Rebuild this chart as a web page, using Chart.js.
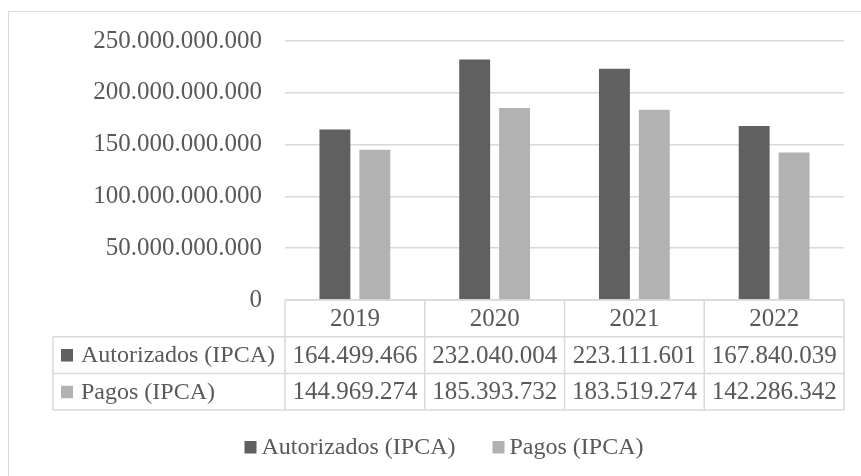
<!DOCTYPE html>
<html>
<head>
<meta charset="utf-8">
<script src="https://cdn.jsdelivr.net/npm/chart.js@4.4.0/dist/chart.umd.min.js"></script>
<style>
html, body { margin: 0; padding: 0; background: #fff; overflow: hidden; }
#wrap { position: relative; width: 861px; height: 476px; }
#frame { position: absolute; left: 8px; top: 11px; width: 880px; height: 490px; border: 1.5px solid #d9d9d9; box-sizing: border-box; }
canvas { position: absolute; left: 0; top: 0; }
</style>
</head>
<body>
<div id="wrap">
  <div id="frame"></div>
  <canvas id="grafico" width="861" height="476"></canvas>
</div>
<script>
// valores em R$ mil, como na tabela
const anos = ['2019', '2020', '2021', '2022'];
const autorizados = [164499466, 232040004, 223111601, 167840039];
const pagos = [144969274, 185393732, 183519274, 142286342];
const nomesSeries = ['Autorizados (IPCA)', 'Pagos (IPCA)'];
const yTickLabels = ['0', '50.000.000.000', '100.000.000.000', '150.000.000.000', '200.000.000.000', '250.000.000.000'];

const corEscura = '#606060';
const corClara = '#b2b2b2';
const corTexto = '#595959';
const corLinha = '#d9d9d9';
const fonte = '"Liberation Serif", "Times New Roman", serif';

function fmt(v) {
    return String(v).replace(/\B(?=(\d{3})+(?!\d))/g, '.');
}

// desenha a tabela de dados e a legenda embaixo do gráfico
const tabelaPlugin = {
    id: 'tabela',
    afterDraw(chart) {
        const { ctx, chartArea } = chart;
        const x = chart.scales.x;
        const n = anos.length;
        const colW = (x.right - x.left) / n;
        const left0 = 53;
        const rowH = 36.7;
        const y0 = chartArea.bottom;
        const ys = [y0, y0 + rowH, y0 + rowH * 2, y0 + rowH * 3];

        ctx.save();
        ctx.strokeStyle = corLinha;
        ctx.lineWidth = 1.5;
        ctx.beginPath();
        ctx.moveTo(x.left, ys[0]); ctx.lineTo(x.right, ys[0]);
        for (let r = 1; r < 4; r++) {
            ctx.moveTo(left0, ys[r]); ctx.lineTo(x.right, ys[r]);
        }
        for (let i = 0; i <= n; i++) {
            const cx = x.left + i * colW;
            ctx.moveTo(cx, ys[0]); ctx.lineTo(cx, ys[3]);
        }
        ctx.moveTo(left0, ys[1]); ctx.lineTo(left0, ys[3]);
        ctx.stroke();

        ctx.fillStyle = corTexto;
        ctx.font = '25px ' + fonte;
        ctx.textBaseline = 'middle';
        ctx.textAlign = 'center';
        anos.forEach((a, i) => {
            const cx = x.getPixelForValue(i);
            ctx.fillText(a, cx, (ys[0] + ys[1]) / 2 + 1);
            ctx.fillText(fmt(autorizados[i]), cx, (ys[1] + ys[2]) / 2 + 1);
            ctx.fillText(fmt(pagos[i]), cx, (ys[2] + ys[3]) / 2 + 1);
        });

        // rótulos das linhas
        ctx.textAlign = 'left';
        const cores = [corEscura, corClara];
        nomesSeries.forEach((nome, k) => {
            const cy = (ys[k + 1] + ys[k + 2]) / 2;
            ctx.fillStyle = cores[k];
            ctx.fillRect(61, cy - 6, 12, 12.5);
            ctx.fillStyle = corTexto;
            ctx.font = '24px ' + fonte;
            ctx.fillText(nome, 81, cy + 1);
        });

        // legenda
        ctx.font = '24px ' + fonte;
        const larguras = nomesSeries.map(s => ctx.measureText(s).width);
        const total = 12 + 5 + larguras[0] + 37 + 12 + 5 + larguras[1];
        let lx = 444 - total / 2;
        const ly = 447;
        nomesSeries.forEach((nome, k) => {
            ctx.fillStyle = cores[k];
            ctx.fillRect(lx, ly - 6, 12, 12.5);
            ctx.fillStyle = corTexto;
            ctx.fillText(nome, lx + 17, ly + 1);
            lx += 17 + larguras[k] + 37;
        });
        ctx.restore();
    }
};

new Chart(document.getElementById('grafico'), {
    type: 'bar',
    data: {
        labels: anos,
        datasets: [
            { label: nomesSeries[0], data: autorizados, backgroundColor: corEscura,
              categoryPercentage: 0.571, barPercentage: 0.775 },
            { label: nomesSeries[1], data: pagos, backgroundColor: corClara,
              categoryPercentage: 0.571, barPercentage: 0.775 }
        ]
    },
    options: {
        responsive: false,
        animation: false,
        devicePixelRatio: 1,
        layout: { padding: { top: 41, right: 17, bottom: 176, left: 0 } },
        plugins: {
            legend: { display: false },
            tooltip: { enabled: false }
        },
        scales: {
            x: { display: false },
            y: {
                min: 0,
                max: 250000000,
                ticks: {
                    stepSize: 50000000,
                    padding: 23,
                    color: corTexto,
                    font: { family: fonte, size: 25 },
                    callback: (v, i) => yTickLabels[i]
                },
                grid: { color: corLinha, lineWidth: 1.5, drawTicks: false },
                border: { display: false },
                afterFit: (scale) => { scale.width = 285; }
            }
        }
    },
    plugins: [tabelaPlugin]
});
</script>
</body>
</html>
